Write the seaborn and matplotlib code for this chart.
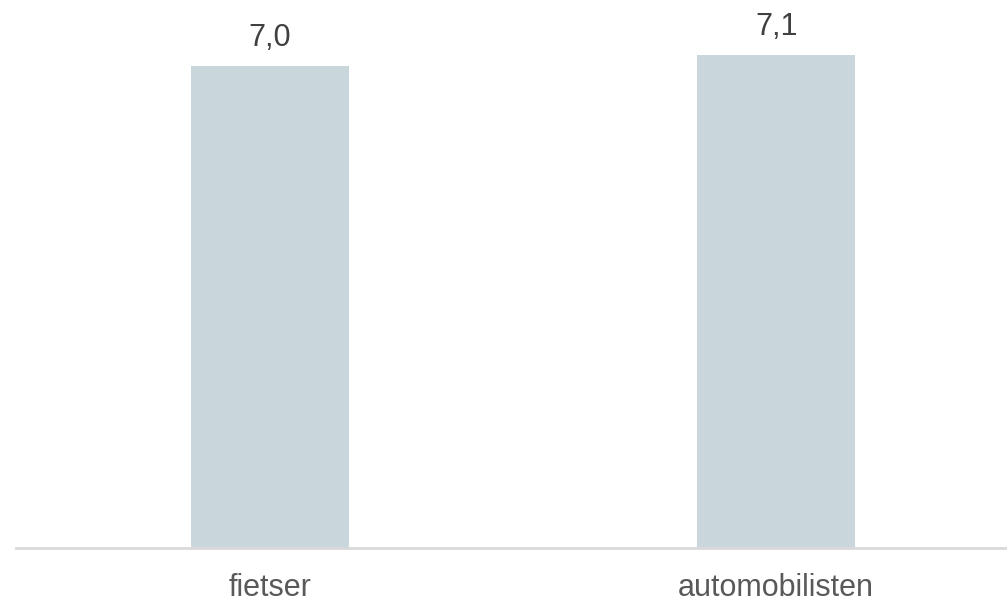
import matplotlib
matplotlib.use("Agg")
import matplotlib.pyplot as plt
import seaborn as sns
import pandas as pd

# data
categories = ["fietser", "automobilisten"]
values = [6.98, 7.14]
value_labels = ["7,0", "7,1"]

df = pd.DataFrame({"groep": categories, "score": values})

sns.set_style("white")
plt.rcParams["font.family"] = ["Liberation Sans", "DejaVu Sans"]

fig = plt.figure(figsize=(10.07, 6.01), dpi=100)
# axes from x=16px to right edge, baseline at y=548px
ax = fig.add_axes([16 / 1007, (601 - 548) / 601, 1 - 16 / 1007, 548 / 601])

sns.barplot(data=df, x="groep", y="score", color="#c9d6dc", saturation=1,
            width=0.313, linewidth=0, ax=ax)

ax.set_xlim(-0.502, 1.456)
ax.set_ylim(0, 7.944)

for p, lab in zip(ax.patches, value_labels):
    ax.annotate(lab, (p.get_x() + p.get_width() / 2, p.get_height()),
                xytext=(0, 10), textcoords="offset points",
                ha="center", va="bottom", fontsize=22, color="#404040")

for s in ["top", "right", "left"]:
    ax.spines[s].set_visible(False)
ax.spines["bottom"].set_color("#d9d9d9")
ax.spines["bottom"].set_linewidth(2)
ax.set_yticks([])
ax.set_xlabel("")
ax.set_ylabel("")
ax.tick_params(axis="x", length=0, pad=18, labelsize=22, labelcolor="#595959")

fig.savefig("out.png", dpi=100)
